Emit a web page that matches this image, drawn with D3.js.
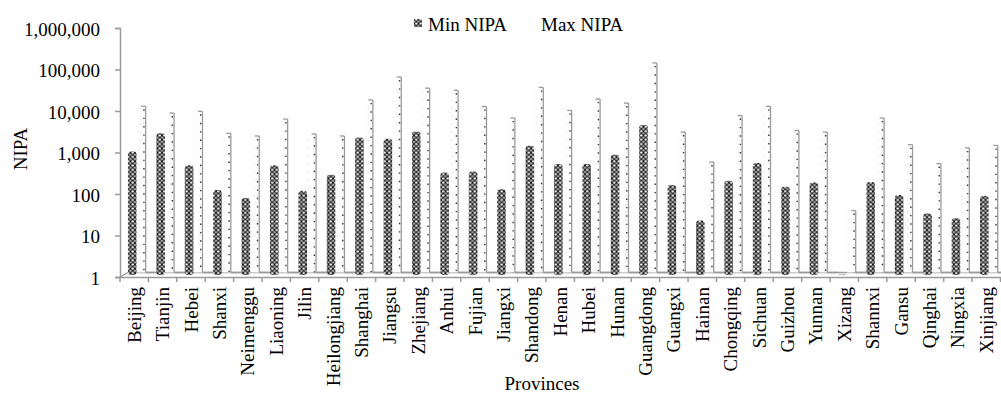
<!DOCTYPE html>
<html><head><meta charset="utf-8">
<script src="https://cdn.jsdelivr.net/npm/d3@7/dist/d3.min.js"></script>
<style>body{margin:0;background:#fff}svg{display:block}</style>
</head><body><svg id="c" width="1001" height="396" font-family="Liberation Serif"></svg>
<script>
const provinces = ["Beijing","Tianjin","Hebei","Shanxi","Neimenggu","Liaoning","Jilin","Heilongjiang","Shanghai","Jiangsu","Zhejiang","Anhui","Fujian","Jiangxi","Shandong","Henan","Hubei","Hunan","Guangdong","Guangxi","Hainan","Chongqing","Sichuan","Guizhou","Yunnan","Xizang","Shannxi","Gansu","Qinghai","Ningxia","Xinjiang"];
const minNIPA = [1050,2900,490,125,80,490,120,290,2300,2150,3200,330,350,130,1450,530,530,880,4600,165,23,210,560,150,190,1.15,195,95,34,26,90];
const maxNIPA = [13000,8900,9800,2900,2500,6400,2800,2500,18500,66000,35500,31500,12900,6800,37000,10300,19500,15500,144000,3100,590,7800,12900,3400,3100,40,6800,1540,540,1290,1480];
const yTicks = [1,10,100,1000,10000,100000,1000000];
const seriesNames = ["Min NIPA","Max NIPA"];

const FONT = "Liberation Serif", FS = 19;
const svg = d3.select("#c");
const defs = svg.append("defs");
const pm = defs.append("pattern").attr("id","pMin").attr("patternUnits","userSpaceOnUse").attr("width",4.5).attr("height",4.3);
pm.append("rect").attr("width",4.5).attr("height",4.3).attr("fill","#fff");
pm.append("ellipse").attr("cx",2.25).attr("cy",2.15).attr("rx",1.8).attr("ry",1.6).attr("fill","none").attr("stroke","#111").attr("stroke-width",1);
[[0,0],[4.5,0],[0,4.3],[4.5,4.3]].forEach(c=>pm.append("circle").attr("cx",c[0]).attr("cy",c[1]).attr("r",0.6).attr("fill","#444"));
const px = defs.append("pattern").attr("id","pMax").attr("patternUnits","userSpaceOnUse").attr("width",6).attr("height",8);
px.append("rect").attr("width",6).attr("height",8).attr("fill","#fff");
px.append("circle").attr("cx",2).attr("cy",4).attr("r",0.6).attr("fill","#ccc");

const y = d3.scaleLog().domain([1,1e6]).range([277,28]);
const x = d3.scaleBand().domain(provinces).range([120,1000.5]).padding(0);
const bw = x.bandwidth();
const xs = d3.scaleBand().domain(seriesNames).range([bw*0.28, bw*0.92]).padding(0);
const grey = "#9a9a9a";

svg.append("line").attr("x1",128).attr("x2",1001).attr("y1",272.5).attr("y2",272.5).attr("stroke",grey).attr("stroke-width",1.5);
svg.append("line").attr("x1",120).attr("x2",128).attr("y1",277).attr("y2",272.5).attr("stroke",grey).attr("stroke-width",1.2);

const yAxis = d3.axisLeft(y).tickValues(yTicks).tickFormat(d3.format(",")).tickSize(5);
const ga = svg.append("g").attr("transform","translate(120,0)").call(yAxis).attr("font-family",FONT).attr("font-size",FS);
ga.select(".domain").attr("stroke",grey).attr("stroke-width",1.5);
ga.selectAll(".tick line").attr("stroke",grey).attr("stroke-width",1.5);
ga.selectAll(".tick text").attr("x",-20).attr("dy","0.38em").attr("fill","#000");

const xAxis = d3.axisBottom(x).tickSize(0).tickFormat("");
const gx = svg.append("g").attr("transform","translate(0,277)").call(xAxis).attr("font-family",FONT).attr("font-size",FS);
gx.select(".domain").attr("stroke",grey).attr("stroke-width",1.5);
gx.selectAll(".btick").data(d3.range(provinces.length+1)).enter().append("line")
  .attr("x1",i=>120+i*bw).attr("x2",i=>120+i*bw).attr("y1",0).attr("y2",5).attr("stroke",grey).attr("stroke-width",1.5);
gx.selectAll(".lab").data(provinces).enter().append("text")
  .attr("transform",d=>`translate(${x(d)+bw/2+6.5},10) rotate(-90)`)
  .attr("text-anchor","end").attr("fill","#000").text(d=>d);

const gMax = svg.append("g");
provinces.forEach((p,i)=>{
  const x0 = x(p)+xs("Max NIPA"), w = xs.bandwidth(), yt = y(maxNIPA[i]), yb = 272.5;
  gMax.append("rect").attr("x",x0).attr("y",yt).attr("width",w).attr("height",yb-yt).attr("fill","url(#pMax)");
  gMax.append("line").attr("x1",x0+w-0.5).attr("x2",x0+w-0.5).attr("y1",yt).attr("y2",yb).attr("stroke",grey).attr("stroke-width",1.3);
  gMax.append("line").attr("x1",x0+w-2.2).attr("x2",x0+w-2.2).attr("y1",yt+3).attr("y2",yb).attr("stroke","#333").attr("stroke-width",1.4).attr("stroke-dasharray","1.4,7");
  gMax.append("line").attr("x1",x0+w*0.45).attr("x2",x0+w-0.5).attr("y1",yt).attr("y2",yt).attr("stroke",grey).attr("stroke-width",1.3);
  gMax.append("line").attr("x1",x0+w-0.5).attr("x2",x0+w+bw*0.36).attr("y1",yb).attr("y2",yb).attr("stroke",grey).attr("stroke-width",1.5);
});

svg.append("g").selectAll("rect").data(provinces).enter().append("rect")
  .attr("x",d=>x(d)+xs("Min NIPA")).attr("width",xs.bandwidth()-0.5)
  .attr("y",(d,i)=>y(minNIPA[i])).attr("height",(d,i)=>275-y(minNIPA[i]))
  .attr("rx",3).attr("fill","url(#pMin)");

svg.append("text").attr("transform","translate(27,149) rotate(-90)").attr("text-anchor","middle").attr("font-family",FONT).attr("font-size",FS).text("NIPA");
svg.append("text").attr("x",542).attr("y",390).attr("text-anchor","middle").attr("font-family",FONT).attr("font-size",FS).text("Provinces");

const leg = svg.append("g").attr("font-family",FONT).attr("font-size",FS);
leg.append("rect").attr("x",414).attr("y",19).attr("width",8).attr("height",8).attr("fill","url(#pMin)");
leg.append("text").attr("x",428).attr("y",31).text(seriesNames[0]);
leg.append("rect").attr("x",527).attr("y",19).attr("width",8).attr("height",8).attr("fill","url(#pMax)");
leg.append("text").attr("x",541).attr("y",31).text(seriesNames[1]);
</script></body></html>
